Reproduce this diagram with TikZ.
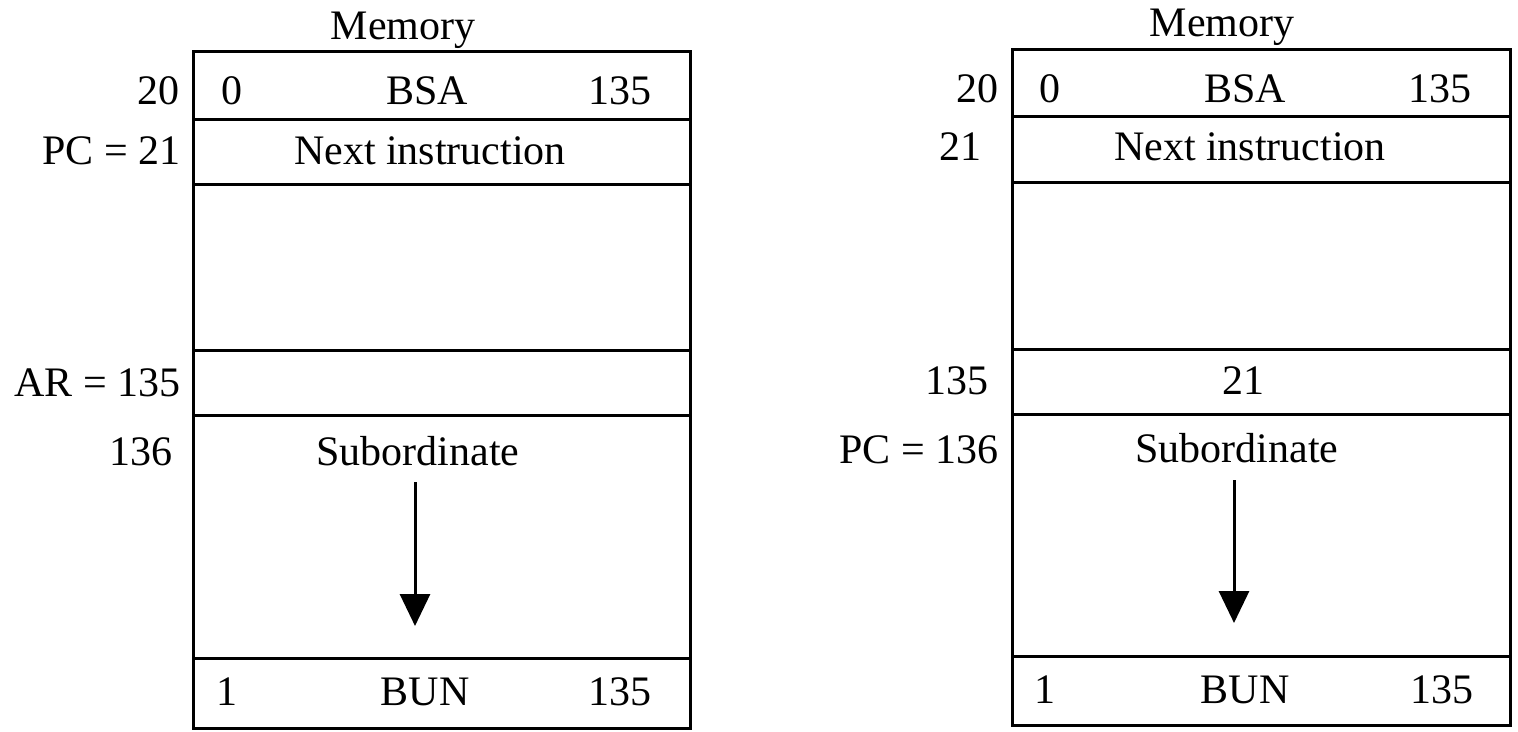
\documentclass[tikz,border=0pt]{standalone}
\usepackage{fontspec}
\setmainfont{Liberation Serif}
\usetikzlibrary{arrows.meta}
\begin{document}
\begin{tikzpicture}[x=0.5pt,y=-0.5pt,
  cellline/.style={line width=1.5pt},
  txt/.style={anchor=base,inner sep=0pt,font=\fontsize{21}{25}\selectfont},
  lbl/.style={anchor=base east,inner sep=0pt,font=\fontsize{21}{25}\selectfont},
  flow/.style={line width=1.5pt,-{Triangle[width=15pt,length=16pt]}}]
\useasboundingbox (0,0) rectangle (1518,732);
% ---------- left memory ----------
\draw[cellline] (193,52) rectangle (690,728);
\foreach \yy in {120,185,350,415,658} \draw[cellline] (193,\yy) -- (690,\yy);
\node[txt] (lmem) at (403,40) {Memory};
\node[lbl] (l20) at (180,105) {20};
\node[txt] (l0) at (232,105) {0};
\node[txt] (lbsa) at (427,105) {BSA};
\node[txt] (l135a) at (620,105) {135};
\node[lbl] (lpc) at (181,165) {PC = 21};
\node[txt] (lnext) at (430,165) {Next instruction};
\node[lbl] (lar) at (181,396) {AR = 135};
\node[lbl] (l136) at (173,465) {136};
\node[txt] (lsub) at (418,465) {Subordinate};
\node[txt] (l1) at (227,705) {1};
\node[txt] (lbun) at (425,705) {BUN};
\node[txt] (l135b) at (620,705) {135};
\coordinate (las) at (415,482);
\coordinate (lae) at (415,626);
\draw[flow] (las) -- (lae);
% ---------- right memory ----------
\draw[cellline] (1012,50) rectangle (1510,725);
\foreach \yy in {117,183,349,414,656} \draw[cellline] (1012,\yy) -- (1510,\yy);
\node[txt] (rmem) at (1222,37) {Memory};
\node[lbl] (r20) at (999,103) {20};
\node[txt] (r0) at (1050,103) {0};
\node[txt] (rbsa) at (1245,103) {BSA};
\node[txt] (r135a) at (1440,103) {135};
\node[txt] (r21) at (960,161) {21};
\node[txt] (rnext) at (1250,161) {Next instruction};
\node[txt] (r135) at (957,394) {135};
\node[txt] (r21b) at (1243,394) {21};
\node[lbl] (rpc) at (999,463) {PC = 136};
\node[txt] (rsub) at (1237,462) {Subordinate};
\node[txt] (r1) at (1045,703) {1};
\node[txt] (rbun) at (1245,703) {BUN};
\node[txt] (r135b) at (1442,703) {135};
\coordinate (ras) at (1234,480);
\coordinate (rae) at (1234,623);
\draw[flow] (ras) -- (rae);
\end{tikzpicture}
\end{document}
